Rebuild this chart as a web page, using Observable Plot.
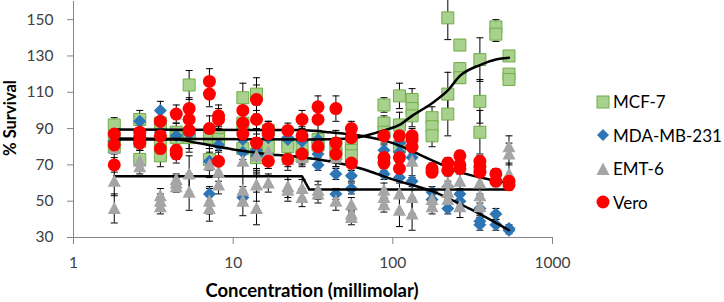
<!DOCTYPE html>
<html>
<head>
<meta charset="utf-8">
<script src="https://cdn.jsdelivr.net/npm/d3@7"></script>
<script src="https://cdn.jsdelivr.net/npm/@observablehq/plot@0.6"></script>
<style>
  body { margin: 0; background: #fff; }
  #wrap { position: relative; width: 724px; height: 302px; font-family: Lato, "Open Sans", sans-serif; }
  #wrap svg { position: absolute; left: 0; top: 0; }
  .title { position: absolute; font-weight: bold; font-size: 16.5px; color: #000; white-space: nowrap; line-height: 1; }
  #xtitle { font-size: 18.5px; }
  #legend { position: absolute; left: 596px; top: 85px; font-size: 17px; color: #000; }
  #legend .item { height: 33.5px; display: flex; align-items: center; }
  #legend svg { position: static; margin-right: 3px; }
</style>
</head>
<body>
<div id="wrap"></div>
<script>
// ---- data ----
const conc = [1.8, 2.6, 3.5, 4.4, 5.3, 7.1, 8.1, 11.5, 14, 16.6, 22, 27, 34, 44, 55, 88, 110, 132, 176, 221, 263, 351, 442, 534];

const mcf7 = [[92,80,85],[95,83,73],[93,75,83],[88,85],[114,87,85],[85,73],[86,84],[107,93,79],[109,76,74],[89,80],[82,80],[80,75],[84,81],[80,76],[82,78,75],[103,93,88],[108,92,80],[106,101,97],[96,91,86],[151,109,98],[136,123,118],[128,105,88],[146,142],[130,120,117]];
const mda = [[83],[94,85],[100,88],[86],[87],[72,54],[81],[84,77,52],[78,75],[85,75],[85,84],[83,77],[84,76,70],[65,54],[64,57],[78,65],[82,77,63],[74,61],[55,51],[58,46],[54,50],[46,39,37],[43,37],[35,34]];
const emt = [[61,46,79],[72,69],[53,50,47],[62,60,58],[65,55],[70,50,46],[66,59],[72,56,50],[75,59,46],[77,60],[73,58,56],[74,57,52],[56,54],[74,50],[48,43,41],[56,52,48],[54,45],[72,52,43],[51,47],[60,55,51],[61,47],[60,53,47],[],[80,76,65]];
const vero = [[87,81,70],[88,85,82],[94,86,79],[98,78,76],[101,95,89],[116,109,90],[97,95,72],[100,93,87],[106,95,82],[90,87,72],[89,73],[95,86,76],[102,95,80],[101,82,76],[90,85,71],[86,74,71],[86,74,68],[86,84,80],[68,66],[71,67],[75,68,70],[72,69,66],[65,61],[61,59]];

const mcf7Err = [4,5,6,5,8,6,6,8,9,5,4,5,5,5,6,4,7,6,6,12,3,12,4,2];
const mdaErr  = [3,4,5,3,4,4,4,4,4,3,3,3,3,3,3,3,3,3,3,3,3,3,3,2];
const emtErr  = [8,4,4,3,10,7,5,8,9,5,6,5,5,5,4,4,9,9,4,4,6,6,4,6];
const veroErr = [4,4,5,5,6,7,6,6,8,4,4,5,6,7,4,4,4,4,3,3,3,3,3,3];

// fitted curves
const mcf7FitX = [1.8, 30, 55, 70, 88, 110, 132, 176, 221, 263, 351, 442, 534];
const mcf7FitY = [84.5, 84, 84.5, 86.5, 89, 92, 97, 104, 111, 119, 125, 128, 129];
const mdaFitX  = [1.8, 4.5, 6, 10, 16, 25, 40, 63, 100, 176, 300, 534];
const mdaFitY  = [84, 84, 82, 78.5, 76, 74.5, 72, 68, 62, 55.5, 46, 34];
const emtFitX  = [1.8, 27, 30, 534];
const emtFitY  = [63.7, 63.7, 56.4, 56.4];
const veroFitX = [1.8, 25, 40, 63, 100, 176, 263, 400, 534];
const veroFitY = [89.5, 89.2, 88, 86, 82, 72.5, 66, 62, 60];

const seriesNames = ["MCF-7", "MDA-MB-231", "EMT-6", "Vero"];
const yTicks = [30, 50, 70, 90, 110, 130, 150];
const xTicks = [1, 10, 100, 1000];

// ---- build tidy tables ----
function tidy(vals, errs) {
  return vals.flatMap((arr, i) => arr.map(v => ({c: conc[i], v, e: errs[i]})));
}
const dMcf = tidy(mcf7, mcf7Err), dMda = tidy(mda, mdaErr), dEmt = tidy(emt, emtErr), dVero = tidy(vero, veroErr);
const allPts = [...dMcf, ...dMda, ...dEmt, ...dVero];
const fit = (xs, ys) => xs.map((x, i) => ({x, y: ys[i]}));

// custom symbols: r = half-size in px
const rad = s => Math.sqrt(s / Math.PI);
const capSym = {draw(ctx, s) { const r = rad(s); ctx.moveTo(-r, 0); ctx.lineTo(r, 0); }};
const squareSym = {draw(ctx, s) { const r = rad(s); ctx.rect(-r, -r, 2*r, 2*r); }};
const diamondSym = {draw(ctx, s) { const r = rad(s); ctx.moveTo(0,-r); ctx.lineTo(r,0); ctx.lineTo(0,r); ctx.lineTo(-r,0); ctx.closePath(); }};
const triSym = {draw(ctx, s) { const r = rad(s); ctx.moveTo(0,-r*1.05); ctx.lineTo(r,r*0.85); ctx.lineTo(-r,r*0.85); ctx.closePath(); }};

const green = "#a9d18e", greenStroke = "#70ad47", blue = "#2e75b6", gray = "#a5a5a5", red = "#ff0000";

const chart = Plot.plot({
  width: 724, height: 302,
  marginLeft: 73, marginRight: 172, marginTop: 1, marginBottom: 65,
  style: {fontFamily: "Lato, 'Open Sans', sans-serif", fontSize: "15.5px", color: "#404040", background: "transparent"},
  x: {type: "log", domain: [1, 1000]},
  y: {domain: [30, 160]},
  marks: [
    Plot.ruleX([1], {stroke: "#868686"}),
    Plot.ruleY([30], {stroke: "#868686"}),
    Plot.axisY({ticks: yTicks, tickSize: 6, tickPadding: 14, stroke: "#868686", fill: "#404040", label: null}),
    Plot.axisX({ticks: xTicks, tickFormat: d => String(d), tickSize: 7, tickPadding: 12, stroke: "#868686", fill: "#404040", label: null}),
    // error bars
    Plot.ruleX(allPts, {x: "c", y1: d => d.v - d.e, y2: d => d.v + d.e, stroke: "#000", strokeWidth: 1}),
    Plot.dot(allPts, {x: "c", y: d => d.v + d.e, symbol: capSym, r: 3.5, stroke: "#000", strokeWidth: 1}),
    Plot.dot(allPts, {x: "c", y: d => d.v - d.e, symbol: capSym, r: 3.5, stroke: "#000", strokeWidth: 1}),
    // markers
    Plot.dot(dMcf, {x: "c", y: "v", symbol: squareSym, r: 6, fill: green, stroke: greenStroke, strokeWidth: 1}),
    Plot.dot(dMda, {x: "c", y: "v", symbol: diamondSym, r: 6.5, fill: blue, stroke: "none"}),
    // fitted lines
    Plot.line(fit(mcf7FitX, mcf7FitY), {x: "x", y: "y", stroke: "#000", strokeWidth: 2.5, curve: "monotone-x"}),
    Plot.line(fit(mdaFitX, mdaFitY), {x: "x", y: "y", stroke: "#000", strokeWidth: 2.5, curve: "monotone-x"}),
    Plot.line(fit(emtFitX, emtFitY), {x: "x", y: "y", stroke: "#000", strokeWidth: 2.5}),
    Plot.line(fit(veroFitX, veroFitY), {x: "x", y: "y", stroke: "#000", strokeWidth: 2.5, curve: "monotone-x"}),
    Plot.dot(dEmt, {x: "c", y: "v", symbol: triSym, r: 6.5, fill: gray, stroke: "none"}),
    Plot.dot(dVero, {x: "c", y: "v", r: 6.5, fill: red, stroke: "none"})
  ]
});

const wrap = document.getElementById("wrap");
wrap.appendChild(chart);

// axis titles
const xt = document.createElement("div");
xt.className = "title"; xt.id = "xtitle"; xt.textContent = "Concentration (millimolar)";
xt.style.left = "312px"; xt.style.top = "290px"; xt.style.transform = "translate(-50%,-50%)";
wrap.appendChild(xt);
const yt = document.createElement("div");
yt.className = "title"; yt.textContent = "% Survival";
yt.style.left = "10px"; yt.style.top = "118px"; yt.style.transform = "translate(-50%,-50%) rotate(-90deg)";
wrap.appendChild(yt);

// legend
const legend = document.createElement("div");
legend.id = "legend";
const legendSyms = [
  `<rect x="1" y="1" width="12" height="12" fill="${green}" stroke="${greenStroke}"/>`,
  `<path d="M7,1L13,7L7,13L1,7Z" fill="${blue}"/>`,
  `<path d="M7,0.5L13.5,13L0.5,13Z" fill="${gray}"/>`,
  `<circle cx="7" cy="7" r="6.5" fill="${red}"/>`
];
seriesNames.forEach((name, i) => {
  const it = document.createElement("div");
  it.className = "item";
  it.innerHTML = `<svg width="14" height="14" viewBox="0 0 14 14">${legendSyms[i]}</svg><span>${name}</span>`;
  legend.appendChild(it);
});
wrap.appendChild(legend);
</script>
</body>
</html>
